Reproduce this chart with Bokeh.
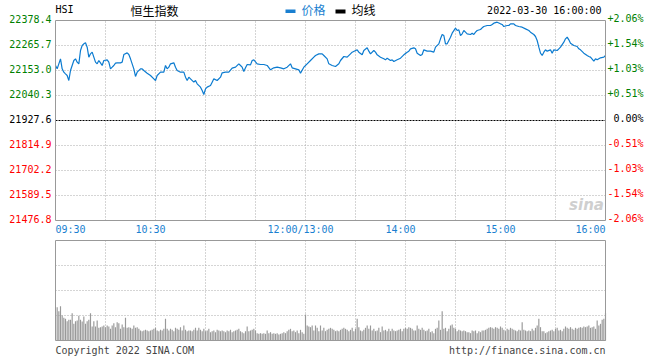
from bokeh.plotting import figure
from bokeh.models import (ColumnDataSource, LabelSet, Label, Range1d, BoxAnnotation)
from bokeh.core.properties import value
from bokeh.embed import file_html
from bokeh.resources import INLINE

# ---------------- data ----------------
symbol = "HSI"
index_name = "恒生指数"
legend_price = "价格"
legend_avg = "均线"
timestamp = "2022-03-30 16:00:00"
prev_close = 21927.6
price_ticks = [22378.4, 22265.7, 22153.0, 22040.3, 21927.6, 21814.9, 21702.2, 21589.5, 21476.8]
pct_labels = ["+2.06%", "+1.54%", "+1.03%", "+0.51%", "0.00%", "-0.51%", "-1.03%", "-1.54%", "-2.06%"]
time_labels = ["09:30", "10:30", "12:00/13:00", "14:00", "15:00", "16:00"]
time_label_minutes = [0, 60, 150, 210, 270, 330]
grid_minutes = [30, 60, 90, 120, 150, 180, 210, 240, 270, 300]
copyright_text = "Copyright 2022 SINA.COM"
url_text = "http://finance.sina.com.cn"

# minutes since 09:30 (lunch break removed) and index level
minutes = [0, 1, 3, 4, 5, 6, 7, 8, 9, 11, 12, 13, 14, 15, 16, 17, 18, 19, 20, 21, 22, 23, 24, 25, 26, 27, 28,
           29, 31, 32, 33, 34, 35, 36, 37, 39, 40, 41, 43, 44, 45, 46, 47, 48, 49, 51, 52, 53, 55, 57, 59, 60,
           61, 63, 65, 66, 67, 68, 69, 71, 72, 73, 75, 77, 78, 79, 80, 81, 83, 84, 85, 87, 88, 89, 90, 91, 93,
           94, 95, 97, 99, 100, 102, 104, 106, 108, 110, 111, 112, 113, 114, 115, 117, 118, 119, 121, 123, 125,
           127, 129, 131, 133, 135, 137, 139, 141, 142, 144, 146, 147, 149, 151, 153, 155, 156, 158, 160, 161,
           163, 164, 166, 168, 170, 171, 173, 175, 177, 178, 181, 182, 184, 185, 187, 188, 189, 191, 192, 193,
           195, 197, 198, 199, 201, 202, 203, 205, 207, 209, 211, 212, 213, 215, 216, 217, 219, 220, 221, 223,
           225, 227, 228, 230, 231, 232, 233, 234, 235, 237, 238, 240, 241, 242, 243, 244, 245, 246, 247, 249,
           250, 251, 252, 253, 255, 256, 257, 259, 261, 262, 263, 265, 267, 268, 269, 271, 272, 273, 275, 276,
           278, 280, 282, 284, 285, 287, 288, 289, 290, 291, 292, 293, 294, 295, 297, 298, 299, 301, 302, 303,
           305, 306, 307, 308, 309, 311, 313, 314, 315, 317, 319, 320, 321, 323, 324, 325, 327, 329, 330]
prices = [22175.6, 22160.5, 22205.6, 22160.5, 22145.5, 22137.9, 22130.4, 22107.9, 22153.0, 22198.1, 22205.6,
          22190.6, 22183.1, 22243.2, 22265.7, 22273.2, 22277.7, 22258.2, 22213.1, 22228.1, 22235.6, 22213.1,
          22190.6, 22183.1, 22198.1, 22187.6, 22175.6, 22198.1, 22201.1, 22190.6, 22160.5, 22168.0, 22175.6,
          22186.1, 22187.6, 22187.6, 22190.6, 22225.1, 22232.6, 22225.1, 22205.6, 22183.1, 22160.5, 22126.0,
          22145.5, 22160.5, 22160.5, 22153.0, 22141.0, 22130.4, 22115.4, 22107.9, 22130.4, 22145.5, 22145.5,
          22175.6, 22160.5, 22168.0, 22183.1, 22187.6, 22168.0, 22153.0, 22145.5, 22145.5, 22122.9, 22107.9,
          22122.9, 22115.4, 22100.4, 22107.9, 22092.9, 22077.9, 22062.8, 22044.8, 22070.3, 22077.9, 22085.4,
          22100.4, 22115.4, 22107.9, 22122.9, 22142.5, 22145.5, 22145.5, 22163.5, 22168.0, 22183.1, 22175.6,
          22168.0, 22148.5, 22165.0, 22180.0, 22178.5, 22198.1, 22201.1, 22183.1, 22180.0, 22180.0, 22175.6,
          22156.0, 22165.0, 22168.0, 22165.0, 22160.5, 22168.0, 22183.1, 22165.0, 22160.5, 22156.0, 22141.0,
          22168.0, 22183.1, 22198.1, 22213.1, 22220.6, 22228.1, 22228.1, 22220.6, 22205.6, 22183.1, 22175.6,
          22171.0, 22183.1, 22198.1, 22216.1, 22213.1, 22228.1, 22235.6, 22246.2, 22235.6, 22223.6, 22243.2,
          22255.2, 22240.2, 22228.1, 22243.2, 22235.6, 22223.6, 22213.1, 22205.6, 22201.1, 22208.6, 22198.1,
          22201.1, 22193.6, 22201.1, 22208.6, 22223.6, 22235.6, 22240.2, 22250.7, 22255.2, 22250.7, 22231.1,
          22220.6, 22225.1, 22246.2, 22240.2, 22240.2, 22235.6, 22258.2, 22273.2, 22295.8, 22315.3, 22310.8,
          22273.2, 22273.2, 22303.3, 22321.3, 22343.8, 22333.3, 22336.3, 22310.8, 22318.3, 22333.3, 22325.8,
          22318.3, 22315.3, 22321.3, 22315.3, 22325.8, 22333.3, 22337.8, 22345.3, 22351.3, 22355.9, 22355.9,
          22360.4, 22366.4, 22370.9, 22363.4, 22360.4, 22351.3, 22355.9, 22355.9, 22363.4, 22363.4, 22355.9,
          22351.3, 22348.3, 22340.8, 22333.3, 22325.8, 22315.3, 22306.3, 22288.2, 22258.2, 22231.1, 22220.6,
          22235.6, 22246.2, 22240.2, 22246.2, 22231.1, 22246.2, 22243.2, 22250.7, 22258.2, 22280.7, 22295.8,
          22303.3, 22291.2, 22276.2, 22265.7, 22261.2, 22250.7, 22246.2, 22231.1, 22220.6, 22216.1, 22213.1,
          22195.1, 22205.6, 22201.1, 22210.1, 22213.1, 22220.6]

# per-minute volume (relative units, 300 = full panel), minutes 1..330
volumes = [100, 88, 103, 75, 68, 65, 58, 62, 62, 82,
           50, 58, 60, 74, 62, 57, 72, 50, 58, 62,
           82, 42, 58, 42, 60, 38, 40, 42, 45, 40,
           45, 42, 35, 45, 52, 40, 55, 52, 35, 48,
           40, 68, 38, 40, 38, 35, 45, 38, 40, 35,
           30, 28, 30, 32, 30, 28, 30, 32, 35, 38,
           30, 28, 32, 30, 35, 65, 35, 30, 35, 32,
           28, 38, 35, 32, 40, 30, 45, 32, 28, 30,
           30, 28, 32, 38, 30, 38, 32, 28, 35, 28,
           30, 35, 25, 28, 30, 25, 32, 30, 28, 30,
           28, 25, 30, 28, 32, 25, 28, 30, 32, 35,
           28, 25, 22, 28, 42, 28, 30, 32, 35, 30,
           22, 20, 22, 20, 22, 20, 30, 22, 25, 20,
           22, 20, 22, 18, 20, 22, 25, 22, 28, 32,
           35, 28, 30, 25, 30, 22, 32, 25, 20, 78,
           45, 42, 40, 45, 30, 45, 38, 28, 45, 30,
           38, 28, 32, 35, 38, 35, 32, 28, 30, 28,
           32, 35, 38, 35, 32,
           28, 32, 38, 28, 35, 65, 40, 30, 28, 32,
           38, 45, 35, 45, 30, 35, 28, 30, 38, 25,
           42, 30, 32, 28, 35, 28, 35, 30, 28, 30,
           32, 35, 28, 35, 38, 35, 40, 38, 35, 30,
           30, 45, 35, 32, 38, 32, 28, 30, 35, 25,
           28, 22, 35, 38, 60, 32, 88, 35, 38, 28,
           35, 45, 48, 38, 35, 28, 32, 30, 28, 30,
           28, 25, 25, 22, 30, 28, 30, 22, 28, 25,
           30, 30, 32, 35, 38, 40, 38, 35, 40, 38,
           35, 42, 38, 32, 28, 35, 32, 38, 35, 32,
           30, 28, 32, 30, 55, 32, 30, 28, 30, 28,
           35, 30, 38, 45, 65, 40, 28, 28, 22, 25,
           28, 30, 32, 28, 35, 38, 30, 32, 28, 35,
           42, 38, 35, 40, 35, 32, 38, 35, 38, 40,
           38, 42, 40, 42, 45, 38, 40, 42, 35, 60,
           45, 50, 62, 65, 82]
vol_minutes = list(range(1, len(volumes) + 1))
vol_max = 300
vol_grid = [75, 150, 225]

# ---------------- style / layout ----------------
MONO = "DejaVu Sans Mono"
CJK = "Noto Sans CJK SC"
BLUE = "#1a7fd0"
LINE_BLUE = "#0b7bd0"
GREEN = "#008000"
RED = "#ff0000"
GRID = "#aaaaaa"
FRAME = "#999999"
W, H = 660, 360
x_lo, x_hi = 0, 330
# pixel geometry of the two panels on the canvas
PL, PR = 55, 605          # panel left / right
P1T, P1B = 20, 220        # price panel top / bottom
P2T, P2B = 240, 340       # volume panel top / bottom

min_per_px = (x_hi - x_lo) / (PR - PL)
price_per_px = (price_ticks[0] - price_ticks[-1]) / (P1B - P1T)
vol_per_px = vol_max / (P2B - P2T)

x_range = Range1d(x_lo - PL * min_per_px, x_hi + (W - PR) * min_per_px)
y_range = Range1d(price_ticks[-1] - (H - P1B) * price_per_px, price_ticks[0] + P1T * price_per_px)
vol_range = Range1d(0 - (H - P2B) * vol_per_px, vol_max + P2T * vol_per_px)

p = figure(width=W, height=H, title=None, x_range=x_range, y_range=y_range,
           x_axis_location=None, y_axis_location=None,
           toolbar_location=None, output_backend="svg",
           min_border=0, min_border_left=0, min_border_right=0,
           min_border_top=0, min_border_bottom=0)
p.extra_y_ranges = {"vol": vol_range}
p.outline_line_color = None
p.background_fill_color = "white"
p.border_fill_color = "white"
p.grid.visible = False

# ---- price panel grid ----
inner_ticks = [t for t in price_ticks[1:-1] if t != prev_close]
p.segment(x0=grid_minutes, x1=grid_minutes, y0=[price_ticks[-1]] * len(grid_minutes),
          y1=[price_ticks[0]] * len(grid_minutes), line_color=GRID, line_dash="1 2", line_width=1)
p.segment(x0=[x_lo] * len(inner_ticks), x1=[x_hi] * len(inner_ticks), y0=inner_ticks, y1=inner_ticks,
          line_color=GRID, line_dash="1 2", line_width=1)
p.segment(x0=[x_lo], x1=[x_hi], y0=[prev_close], y1=[prev_close],
          line_color="black", line_dash="2 1", line_width=1)

# watermark
p.add_layout(Label(x=586, y=204, x_units="canvas", y_units="canvas", text="sina",
                   text_font="DejaVu Sans", text_font_style="bold italic",
                   text_font_size="15px", text_color="#cfcfcf", text_align="center",
                   text_baseline="middle"))

p.line(minutes, prices, line_color=LINE_BLUE, line_width=1.2)
p.quad(left=[x_lo], right=[x_hi], bottom=[price_ticks[-1]], top=[price_ticks[0]],
       fill_color=None, line_color=FRAME, line_width=1)

# ---- volume panel ----
p.segment(x0=grid_minutes, x1=grid_minutes, y0=[0] * len(grid_minutes), y1=[vol_max] * len(grid_minutes),
          line_color=GRID, line_dash="1 2", line_width=1, y_range_name="vol")
p.segment(x0=[x_lo] * len(vol_grid), x1=[x_hi] * len(vol_grid), y0=vol_grid, y1=vol_grid,
          line_color=GRID, line_dash="1 2", line_width=1, y_range_name="vol")
p.vbar(x=vol_minutes, top=volumes, bottom=0, width=0.7, fill_color="#999999", line_color=None,
       y_range_name="vol")
p.quad(left=[x_lo], right=[x_hi], bottom=[0], top=[vol_max], fill_color=None,
       line_color=FRAME, line_width=1, y_range_name="vol")

# ---- tick labels ----
tick_colors = [GREEN if t > prev_close else ("black" if t == prev_close else RED) for t in price_ticks]
left_src = ColumnDataSource(dict(y=price_ticks, text=[f"{t:.1f}" for t in price_ticks], color=tick_colors))
p.add_layout(LabelSet(x=51, x_units="canvas", y="y", text="text", source=left_src,
                      text_color="color", text_align="right", text_baseline="middle",
                      text_font=value(MONO), text_font_size="10px", y_offset=2))
right_src = ColumnDataSource(dict(y=price_ticks, text=pct_labels, color=tick_colors))
p.add_layout(LabelSet(x=643, x_units="canvas", y="y", text="text", source=right_src,
                      text_color="color", text_align="right", text_baseline="middle",
                      text_font=value(MONO), text_font_size="10px", y_offset=2))

tsrc_first = ColumnDataSource(dict(x=time_label_minutes[:1], text=time_labels[:1]))
tsrc_mid = ColumnDataSource(dict(x=time_label_minutes[1:-1], text=time_labels[1:-1]))
tsrc_last = ColumnDataSource(dict(x=time_label_minutes[-1:], text=time_labels[-1:]))
for src, align, dx in ((tsrc_first, "left", 0), (tsrc_mid, "center", -5), (tsrc_last, "right", 0)):
    p.add_layout(LabelSet(x="x", y=228.5, y_units="canvas", text="text", source=src,
                          text_color=BLUE, text_align=align, text_baseline="middle",
                          text_font=value(MONO), text_font_size="10px", x_offset=dx))

# ---- header ----
p.add_layout(Label(x=55, y=9, x_units="canvas", y_units="canvas", text=symbol,
                   text_font=MONO, text_font_size="10px", text_color="black",
                   text_baseline="middle"))
p.add_layout(Label(x=130, y=9.5, x_units="canvas", y_units="canvas", text=index_name,
                   text_font=CJK, text_font_size="12px", text_color="black",
                   text_baseline="middle"))
p.add_layout(BoxAnnotation(left=285, right=295, top=9, bottom=12.5, left_units="canvas",
                           right_units="canvas", top_units="canvas", bottom_units="canvas",
                           fill_color=BLUE, fill_alpha=1, line_color=None))
p.add_layout(Label(x=301, y=8.5, x_units="canvas", y_units="canvas", text=legend_price,
                   text_font=CJK, text_font_size="12px", text_color=BLUE,
                   text_baseline="middle"))
p.add_layout(BoxAnnotation(left=335, right=345, top=9, bottom=13, left_units="canvas",
                           right_units="canvas", top_units="canvas", bottom_units="canvas",
                           fill_color="black", fill_alpha=1, line_color=None))
p.add_layout(Label(x=351, y=8.5, x_units="canvas", y_units="canvas", text=legend_avg,
                   text_font=CJK, text_font_size="12px", text_color="black",
                   text_baseline="middle"))
p.add_layout(Label(x=601, y=9.5, x_units="canvas", y_units="canvas", text=timestamp,
                   text_font=MONO, text_font_size="10px", text_color="black",
                   text_align="right", text_baseline="middle"))

# ---- footer ----
p.add_layout(Label(x=55, y=350, x_units="canvas", y_units="canvas", text=copyright_text,
                   text_font=MONO, text_font_size="10px", text_color="#444444",
                   text_baseline="middle"))
p.add_layout(Label(x=605, y=350, x_units="canvas", y_units="canvas", text=url_text,
                   text_font=MONO, text_font_size="10px", text_color="#444444",
                   text_align="right", text_baseline="middle"))

open("out.html", "w").write(file_html(p, INLINE))
